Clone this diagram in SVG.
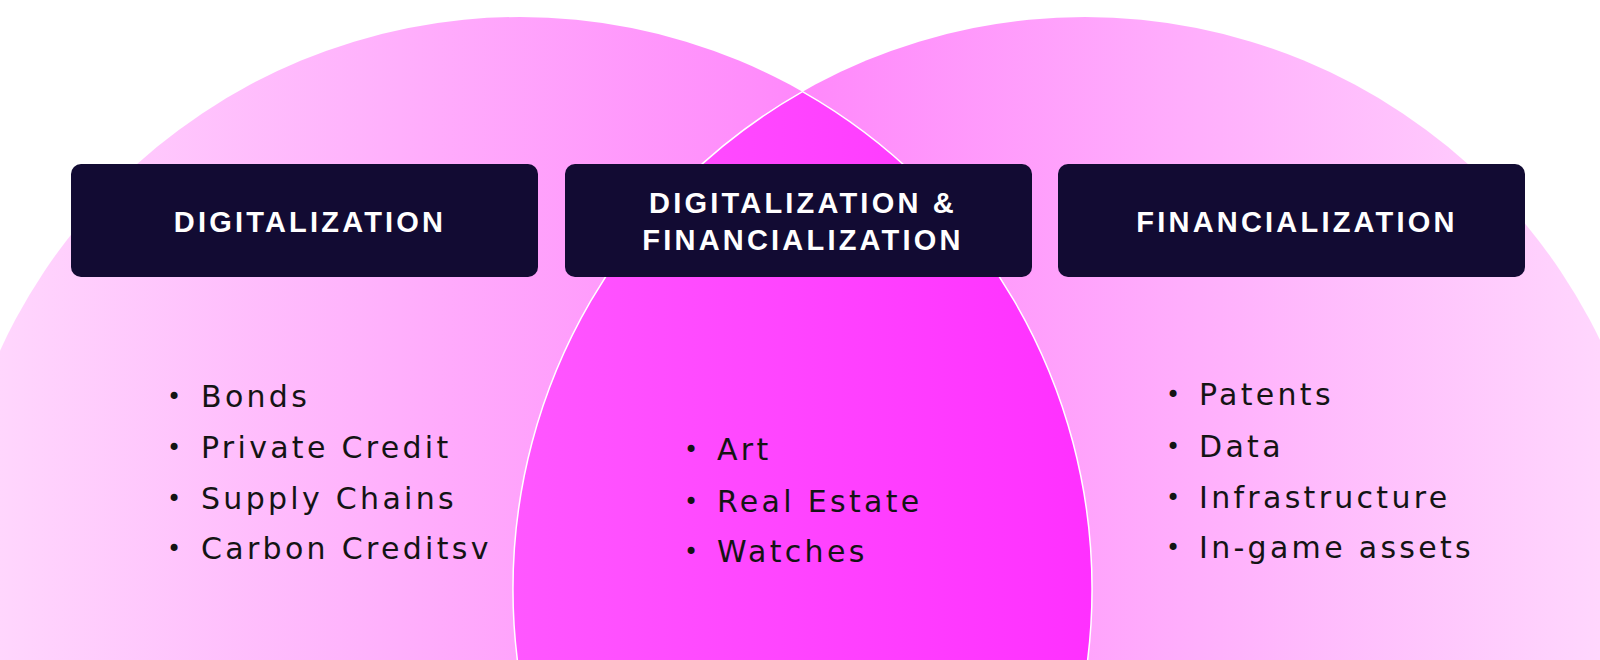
<svg xmlns="http://www.w3.org/2000/svg" width="1600" height="660" viewBox="0 0 1600 660">
  <defs>
    <linearGradient id="gLeft" gradientUnits="userSpaceOnUse" x1="0" y1="0" x2="800" y2="0">
      <stop offset="0" stop-color="#ffd6fd"/>
      <stop offset="1" stop-color="#ff88fb"/>
    </linearGradient>
    <linearGradient id="gRight" gradientUnits="userSpaceOnUse" x1="800" y1="0" x2="1600" y2="0">
      <stop offset="0" stop-color="#ff88fb"/>
      <stop offset="1" stop-color="#ffd6fd"/>
    </linearGradient>
    <linearGradient id="gLens" gradientUnits="userSpaceOnUse" x1="515" y1="0" x2="1090" y2="0">
      <stop offset="0" stop-color="#ff57ff"/>
      <stop offset="1" stop-color="#ff30ff"/>
    </linearGradient>
  </defs>
  <style>
    .box { fill: #120b33; }
    .title { font-family: "Liberation Sans", Arial, sans-serif; font-weight: bold; font-size: 29px; letter-spacing: 3.2px; fill: #ffffff; text-anchor: middle; }
    .item { font-family: "DejaVu Sans", sans-serif; font-size: 30px; letter-spacing: 3.3px; fill: #141414; }
    .bullet { font-family: "DejaVu Sans", sans-serif; font-size: 24px; fill: #141414; text-anchor: middle; }
  </style>
  <rect width="1600" height="660" fill="#ffffff"/>
  <g id="venn">
    <circle id="circle-left" cx="520" cy="589" r="572" fill="url(#gLeft)"/>
    <circle id="circle-right" cx="1085" cy="589" r="572" fill="url(#gRight)"/>
    <path id="lens" d="M 802.5 91.6 A 572 572 0 0 1 802.5 1086.4 A 572 572 0 0 1 802.5 91.6 Z" fill="url(#gLens)" stroke="#ffffff" stroke-width="1.5"/>
  </g>
  <g id="connectors"></g>
  <g id="node-digitalization">
    <rect class="box" x="71" y="164" width="467" height="113" rx="10"/>
    <text class="title" x="310" y="232">DIGITALIZATION</text>
  </g>
  <g id="node-both">
    <rect class="box" x="565" y="164" width="467" height="113" rx="10"/>
    <text class="title" x="803" y="213">DIGITALIZATION &amp;</text>
    <text class="title" x="803" y="250">FINANCIALIZATION</text>
  </g>
  <g id="node-financialization">
    <rect class="box" x="1058" y="164" width="467" height="113" rx="10"/>
    <text class="title" x="1297" y="232">FINANCIALIZATION</text>
  </g>
  <g id="list-digitalization">
    <text class="bullet" x="174" y="405">•</text><text class="item" x="201" y="407">Bonds</text>
    <text class="bullet" x="174" y="456">•</text><text class="item" x="201" y="458">Private Credit</text>
    <text class="bullet" x="174" y="507">•</text><text class="item" x="201" y="509">Supply Chains</text>
    <text class="bullet" x="174" y="557">•</text><text class="item" x="201" y="559">Carbon Creditsv</text>
  </g>
  <g id="list-both">
    <text class="bullet" x="691" y="458">•</text><text class="item" x="717" y="460">Art</text>
    <text class="bullet" x="691" y="510">•</text><text class="item" x="717" y="512">Real Estate</text>
    <text class="bullet" x="691" y="560">•</text><text class="item" x="717" y="562">Watches</text>
  </g>
  <g id="list-financialization">
    <text class="bullet" x="1173" y="403">•</text><text class="item" x="1199" y="405">Patents</text>
    <text class="bullet" x="1173" y="455">•</text><text class="item" x="1199" y="457">Data</text>
    <text class="bullet" x="1173" y="506">•</text><text class="item" x="1199" y="508">Infrastructure</text>
    <text class="bullet" x="1173" y="556">•</text><text class="item" x="1199" y="558">In-game assets</text>
  </g>
</svg>
